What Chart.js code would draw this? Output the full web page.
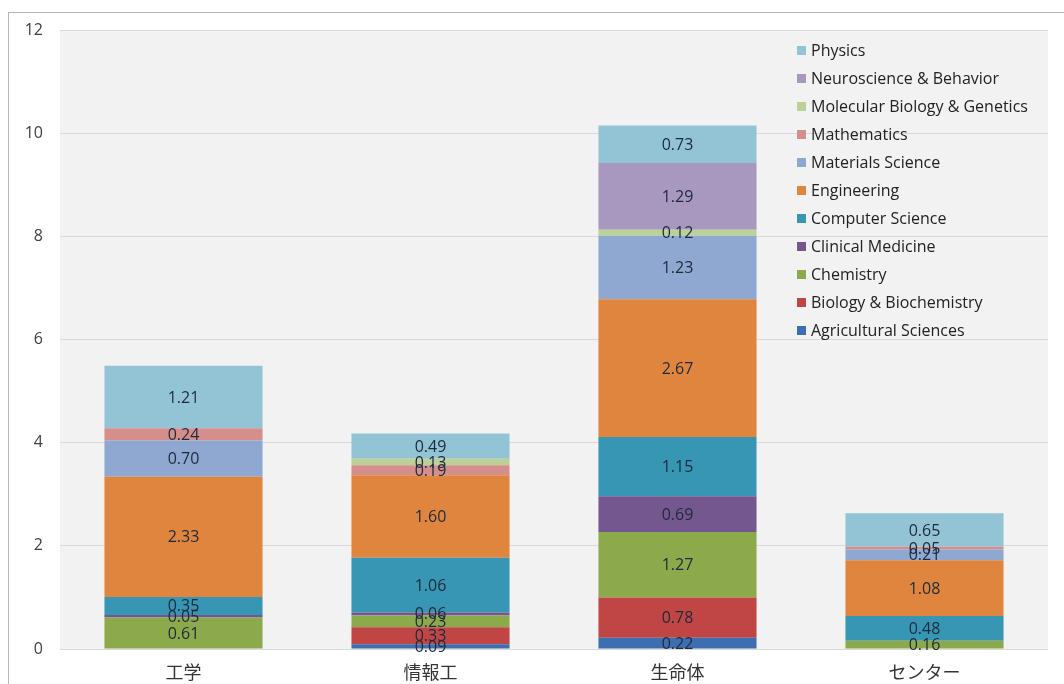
<!DOCTYPE html>
<html>
<head>
<meta charset="utf-8">
<script src="https://cdn.jsdelivr.net/npm/chart.js@4.4.1/dist/chart.umd.min.js"></script>
<style>
  html, body { margin: 0; padding: 0; background: #fff; }
  #wrap { position: relative; width: 1064px; height: 684px; overflow: hidden; }
  #frame { position: absolute; left: 8px; top: 12px; width: 1100px; height: 700px; border: 1px solid #b8b8b8; box-sizing: border-box; }
  canvas { position: absolute; left: 0; top: 0; }
</style>
</head>
<body>
<div id="wrap">
  <div id="frame"></div>
  <canvas id="stackChart" width="1064" height="684"></canvas>
</div>
<script>
// categories and tick labels
const categories = ['工学', '情報工', '生命体', 'センター'];
const yTicks = [0, 2, 4, 6, 8, 10, 12];

// series values, bottom of the stack first (null = not present)
const agricultural = [null, 0.09, 0.22, null];
const biology      = [null, 0.33, 0.78, null];
const chemistry    = [0.61, 0.23, 1.27, 0.16];
const clinical     = [0.05, 0.06, 0.69, null];
const computer     = [0.35, 1.06, 1.15, 0.48];
const engineering  = [2.33, 1.60, 2.67, 1.08];
const materials    = [0.70, null, 1.23, 0.21];
const mathematics  = [0.24, 0.19, null, 0.05];
const molecular    = [null, 0.13, 0.12, null];
const neuroscience = [null, null, 1.29, null];
const physics      = [1.21, 0.49, 0.73, 0.65];

const series = [
  { label: 'Agricultural Sciences',        data: agricultural, color: '#3d6fb0' },
  { label: 'Biology & Biochemistry',       data: biology,      color: '#bf4645' },
  { label: 'Chemistry',                    data: chemistry,    color: '#8caa4b' },
  { label: 'Clinical Medicine',            data: clinical,     color: '#75578f' },
  { label: 'Computer Science',             data: computer,     color: '#3796b3' },
  { label: 'Engineering',                  data: engineering,  color: '#e0853e' },
  { label: 'Materials Science',            data: materials,    color: '#8fa8d2' },
  { label: 'Mathematics',                  data: mathematics,  color: '#d48f8d' },
  { label: 'Molecular Biology & Genetics', data: molecular,    color: '#bcd197' },
  { label: 'Neuroscience & Behavior',      data: neuroscience, color: '#a898bf' },
  { label: 'Physics',                      data: physics,      color: '#92c4d5' }
];

const FONT = '"Open Sans", "DejaVu Sans", sans-serif';

// grey plot area behind the bars
const plotBg = {
  id: 'plotBg',
  beforeDraw(chart) {
    const { ctx, chartArea: a } = chart;
    ctx.save();
    ctx.fillStyle = '#f2f2f2';
    ctx.fillRect(a.left, a.top, a.right - a.left, a.bottom - a.top);
    ctx.restore();
  }
};

// value labels in the middle of each segment
const segLabels = {
  id: 'segLabels',
  afterDatasetsDraw(chart) {
    const ctx = chart.ctx;
    ctx.save();
    ctx.font = '16px ' + FONT;
    ctx.fillStyle = '#1d2a3c';
    ctx.textAlign = 'center';
    ctx.textBaseline = 'middle';
    chart.data.datasets.forEach((ds, i) => {
      const meta = chart.getDatasetMeta(i);
      meta.data.forEach((bar, j) => {
        const v = ds.data[j];
        if (v == null) return;
        const p = bar.getProps(['x', 'y', 'base'], true);
        ctx.fillText(v.toFixed(2), p.x, (p.y + p.base) / 2 + 1);
      });
    });
    ctx.restore();
  }
};

// legend sitting inside the plot, top right, reversed order
const innerLegend = {
  id: 'innerLegend',
  afterDraw(chart) {
    const ctx = chart.ctx;
    const x = 797, y0 = 50, step = 28;
    ctx.save();
    ctx.font = '16px ' + FONT;
    ctx.textBaseline = 'middle';
    ctx.textAlign = 'left';
    const list = chart.data.datasets.slice().reverse();
    list.forEach((ds, k) => {
      const y = y0 + k * step;
      ctx.fillStyle = ds.backgroundColor;
      ctx.fillRect(x, y - 4, 9, 9);
      ctx.fillStyle = '#222222';
      ctx.fillText(ds.label, x + 14, y + 1);
    });
    ctx.restore();
  }
};

new Chart(document.getElementById('stackChart').getContext('2d'), {
  type: 'bar',
  data: {
    labels: categories,
    datasets: series.map(s => ({
      label: s.label,
      data: s.data,
      backgroundColor: s.color,
      borderWidth: 0,
      categoryPercentage: 1,
      barPercentage: 0.64
    }))
  },
  options: {
    responsive: false,
    animation: false,
    layout: { padding: { top: 30, right: 16, bottom: 2, left: 0 } },
    scales: {
      x: {
        stacked: true,
        afterFit(scale) { scale.height = 33; },
        grid: { display: false, drawTicks: false },
        border: { display: false },
        ticks: {
          color: '#333333',
          padding: 12,
          font: { size: 18, family: '"Noto Sans CJK JP", sans-serif' }
        }
      },
      y: {
        stacked: true,
        min: 0,
        max: 12,
        afterFit(scale) { scale.width = 60; },
        afterBuildTicks(scale) { scale.ticks = yTicks.map(v => ({ value: v })); },
        grid: { color: '#d9d9d9', drawTicks: false },
        border: { display: false },
        ticks: {
          color: '#404040',
          padding: 17,
          font: { size: 16, family: FONT }
        }
      }
    },
    plugins: {
      legend: { display: false },
      tooltip: { enabled: false }
    }
  },
  plugins: [plotBg, segLabels, innerLegend]
});
</script>
</body>
</html>
